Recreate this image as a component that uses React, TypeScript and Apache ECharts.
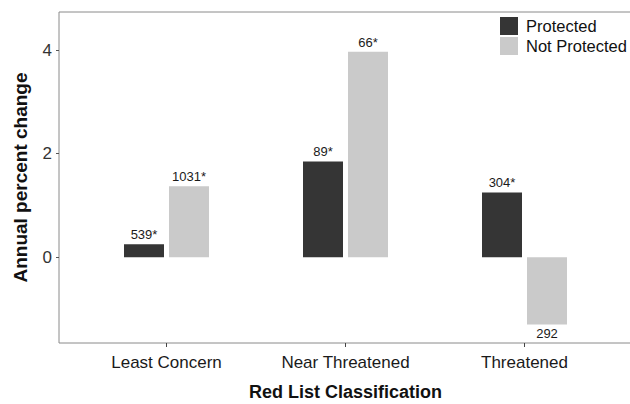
import React, { useEffect, useRef } from "react";
import * as echarts from "echarts";

const categories = ["Least Concern", "Near Threatened", "Threatened"];
const protectedValues = [0.25, 1.85, 1.25];
const notProtectedValues = [1.37, 3.97, -1.3];
const protectedLabels = ["539*", "89*", "304*"];
const notProtectedLabels = ["1031*", "66*", "292"];
const yTicks = [0, 2, 4];
const seriesNames = ["Protected", "Not Protected"];

const FONT = "Liberation Sans, Arial, Helvetica, sans-serif";
const Y_MIN = -1.66;
const Y_MAX = 4.74;

function buildData(values: number[], labels: string[]) {
  return values.map((v, i) => ({
    value: v,
    label: {
      show: true,
      position: v < 0 ? "bottom" : "top",
      formatter: labels[i],
    },
  }));
}

export default function App() {
  const ref = useRef<HTMLDivElement>(null);
  useEffect(() => {
    if (!ref.current) return;
    const chart = echarts.init(ref.current, null, { renderer: "svg" });
    const labelStyle = {
      fontFamily: FONT,
      fontSize: 13,
      color: "#1a1a1a",
      distance: 3,
    };
    chart.setOption({
      animation: false,
      backgroundColor: "#ffffff",
      textStyle: { fontFamily: FONT },
      legend: {
        data: seriesNames,
        orient: "vertical",
        left: 500,
        top: 17,
        padding: 0,
        itemWidth: 18,
        itemHeight: 18,
        itemGap: 2,
        icon: "rect",
        textStyle: {
          fontFamily: FONT,
          fontSize: 16.5,
          color: "#111",
          padding: [0, 0, 0, 3],
        },
      },
      grid: [
        {
          left: 59,
          top: 12,
          width: 576,
          height: 331,
          show: true,
          borderColor: "#8a8a8a",
          borderWidth: 1,
          backgroundColor: "transparent",
          containLabel: false,
          outerBoundsMode: "none",
        },
        {
          left: 77,
          top: 12,
          width: 537,
          height: 331,
          containLabel: false,
          outerBoundsMode: "none",
        },
      ],
      xAxis: [
        {
          type: "value",
          gridIndex: 0,
          min: 0,
          max: 1,
          show: false,
        },
        {
          type: "category",
          gridIndex: 1,
          data: categories,
          axisLine: { show: false, onZero: false },
          axisTick: {
            show: true,
            alignWithLabel: true,
            length: 4,
            lineStyle: { color: "#444" },
          },
          axisLabel: {
            fontFamily: FONT,
            fontSize: 17,
            color: "#1a1a1a",
            margin: 11,
          },
          name: "Red List Classification",
          nameLocation: "middle",
          nameGap: 40,
          nameTextStyle: {
            fontFamily: FONT,
            fontSize: 18,
            fontWeight: "bold",
            color: "#111",
          },
        },
      ],
      yAxis: [
        {
          type: "value",
          gridIndex: 0,
          min: Y_MIN,
          max: Y_MAX,
          splitLine: { show: false },
          axisLine: { show: false },
          axisTick: {
            show: true,
            length: 3,
            customValues: yTicks,
            lineStyle: { color: "#555" },
          },
          axisLabel: {
            fontFamily: FONT,
            fontSize: 17,
            color: "#333",
            margin: 7,
            customValues: yTicks,
          },
          name: "Annual percent change",
          nameLocation: "middle",
          nameGap: 29,
          nameTextStyle: {
            fontFamily: FONT,
            fontSize: 19,
            fontWeight: "bold",
            color: "#111",
          },
        },
        {
          type: "value",
          gridIndex: 1,
          min: Y_MIN,
          max: Y_MAX,
          show: false,
          splitLine: { show: false },
        },
      ],
      series: [
        {
          name: seriesNames[0],
          type: "bar",
          xAxisIndex: 1,
          yAxisIndex: 1,
          barWidth: 40,
          barGap: "12.5%",
          itemStyle: { color: "#353535" },
          label: labelStyle,
          data: buildData(protectedValues, protectedLabels),
        },
        {
          name: seriesNames[1],
          type: "bar",
          xAxisIndex: 1,
          yAxisIndex: 1,
          barWidth: 40,
          barGap: "12.5%",
          itemStyle: { color: "#cacaca" },
          label: labelStyle,
          data: buildData(notProtectedValues, notProtectedLabels),
        },
      ],
    });
    return () => chart.dispose();
  }, []);
  return (
    <div
      ref={ref}
      style={{ position: "fixed", left: 0, top: 0, width: 630, height: 404 }}
    />
  );
}
